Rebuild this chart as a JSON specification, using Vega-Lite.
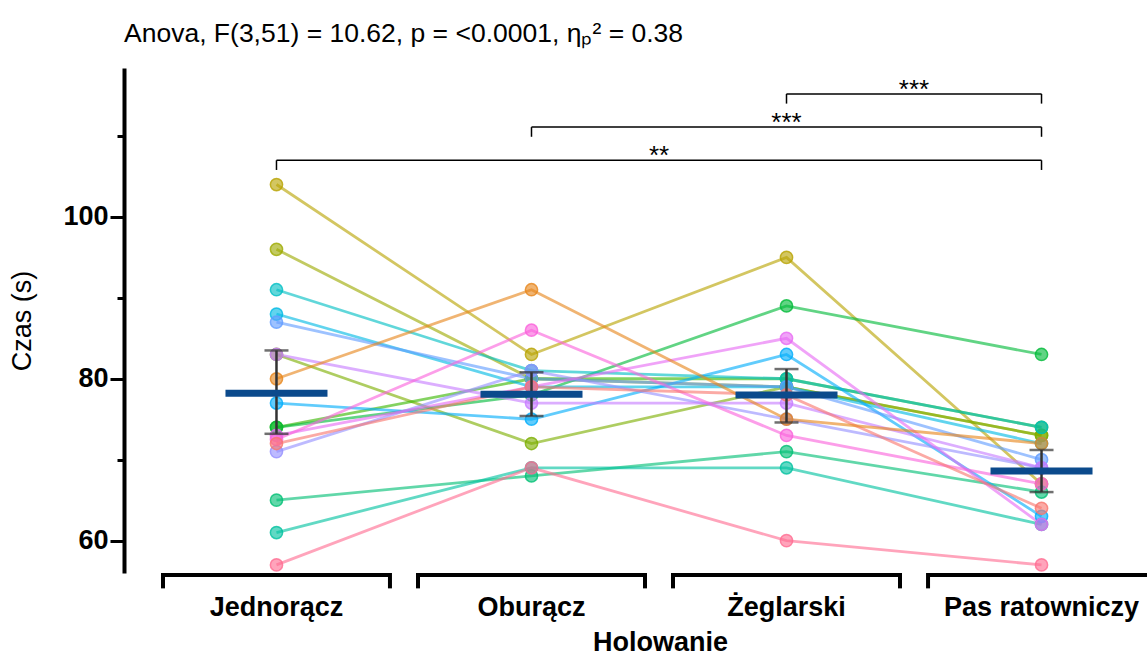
{
  "$schema": "https://vega.github.io/schema/vega-lite/v6.json",
  "autosize": {"type": "none"},
  "padding": {"left": 124, "right": 0, "top": 68, "bottom": 84},
  "width": 1023,
  "height": 505,
  "background": "white",
  "config": {"view": {"stroke": null}, "font": "Liberation Sans"},
  "title": {
    "text": "Anova, F(3,51) = 10.62, p = <0.0001, ηₚ² = 0.38",
    "anchor": "start",
    "frame": "group",
    "font": "Liberation Sans",
    "fontSize": 26.5,
    "fontWeight": "normal",
    "color": "black",
    "baseline": "alphabetic",
    "offset": 0
  },
  "datasets": {
    "obs": [
      {"subject": "S01", "group": "Jednorącz", "czas": 104}, {"subject": "S01", "group": "Oburącz", "czas": 83}, {"subject": "S01", "group": "Żeglarski", "czas": 95}, {"subject": "S01", "group": "Pas ratowniczy", "czas": 67},
      {"subject": "S02", "group": "Jednorącz", "czas": 96}, {"subject": "S02", "group": "Oburącz", "czas": 80}, {"subject": "S02", "group": "Żeglarski", "czas": 79}, {"subject": "S02", "group": "Pas ratowniczy", "czas": 73},
      {"subject": "S03", "group": "Jednorącz", "czas": 83}, {"subject": "S03", "group": "Oburącz", "czas": 72}, {"subject": "S03", "group": "Żeglarski", "czas": 79}, {"subject": "S03", "group": "Pas ratowniczy", "czas": 73},
      {"subject": "S04", "group": "Jednorącz", "czas": 74}, {"subject": "S04", "group": "Oburącz", "czas": 80}, {"subject": "S04", "group": "Żeglarski", "czas": 80}, {"subject": "S04", "group": "Pas ratowniczy", "czas": 74},
      {"subject": "S05", "group": "Jednorącz", "czas": 74}, {"subject": "S05", "group": "Oburącz", "czas": 78}, {"subject": "S05", "group": "Żeglarski", "czas": 89}, {"subject": "S05", "group": "Pas ratowniczy", "czas": 83},
      {"subject": "S06", "group": "Jednorącz", "czas": 65}, {"subject": "S06", "group": "Oburącz", "czas": 68}, {"subject": "S06", "group": "Żeglarski", "czas": 71}, {"subject": "S06", "group": "Pas ratowniczy", "czas": 66},
      {"subject": "S07", "group": "Jednorącz", "czas": 61}, {"subject": "S07", "group": "Oburącz", "czas": 69}, {"subject": "S07", "group": "Żeglarski", "czas": 69}, {"subject": "S07", "group": "Pas ratowniczy", "czas": 62},
      {"subject": "S08", "group": "Jednorącz", "czas": 91}, {"subject": "S08", "group": "Oburącz", "czas": 81}, {"subject": "S08", "group": "Żeglarski", "czas": 80}, {"subject": "S08", "group": "Pas ratowniczy", "czas": 74},
      {"subject": "S09", "group": "Jednorącz", "czas": 88}, {"subject": "S09", "group": "Oburącz", "czas": 79}, {"subject": "S09", "group": "Żeglarski", "czas": 79}, {"subject": "S09", "group": "Pas ratowniczy", "czas": 72},
      {"subject": "S10", "group": "Jednorącz", "czas": 77}, {"subject": "S10", "group": "Oburącz", "czas": 75}, {"subject": "S10", "group": "Żeglarski", "czas": 83}, {"subject": "S10", "group": "Pas ratowniczy", "czas": 63},
      {"subject": "S11", "group": "Jednorącz", "czas": 87}, {"subject": "S11", "group": "Oburącz", "czas": 80}, {"subject": "S11", "group": "Żeglarski", "czas": 79}, {"subject": "S11", "group": "Pas ratowniczy", "czas": 70},
      {"subject": "S12", "group": "Jednorącz", "czas": 71}, {"subject": "S12", "group": "Oburącz", "czas": 81}, {"subject": "S12", "group": "Żeglarski", "czas": 75}, {"subject": "S12", "group": "Pas ratowniczy", "czas": 69},
      {"subject": "S13", "group": "Jednorącz", "czas": 83}, {"subject": "S13", "group": "Oburącz", "czas": 77}, {"subject": "S13", "group": "Żeglarski", "czas": 77}, {"subject": "S13", "group": "Pas ratowniczy", "czas": 69},
      {"subject": "S14", "group": "Jednorącz", "czas": 73}, {"subject": "S14", "group": "Oburącz", "czas": 79}, {"subject": "S14", "group": "Żeglarski", "czas": 85}, {"subject": "S14", "group": "Pas ratowniczy", "czas": 62},
      {"subject": "S15", "group": "Jednorącz", "czas": 72.5}, {"subject": "S15", "group": "Oburącz", "czas": 86}, {"subject": "S15", "group": "Żeglarski", "czas": 73}, {"subject": "S15", "group": "Pas ratowniczy", "czas": 67},
      {"subject": "S16", "group": "Jednorącz", "czas": 57}, {"subject": "S16", "group": "Oburącz", "czas": 69}, {"subject": "S16", "group": "Żeglarski", "czas": 60}, {"subject": "S16", "group": "Pas ratowniczy", "czas": 57},
      {"subject": "S17", "group": "Jednorącz", "czas": 72}, {"subject": "S17", "group": "Oburącz", "czas": 79}, {"subject": "S17", "group": "Żeglarski", "czas": 78}, {"subject": "S17", "group": "Pas ratowniczy", "czas": 64},
      {"subject": "S18", "group": "Jednorącz", "czas": 80}, {"subject": "S18", "group": "Oburącz", "czas": 91}, {"subject": "S18", "group": "Żeglarski", "czas": 75}, {"subject": "S18", "group": "Pas ratowniczy", "czas": 72}
    ],
    "summary": [
      {"group": "Jednorącz", "mean": 78.2, "lo": 73.2, "hi": 83.5},
      {"group": "Oburącz", "mean": 78.1, "lo": 75.4, "hi": 80.8},
      {"group": "Żeglarski", "mean": 78.0, "lo": 74.6, "hi": 81.2},
      {"group": "Pas ratowniczy", "mean": 68.6, "lo": 66.0, "hi": 71.2}
    ],
    "sig": [
      {"from": "Żeglarski", "to": "Pas ratowniczy", "yLine": 115.2, "yEnd": 114.0, "label": "***"},
      {"from": "Oburącz", "to": "Pas ratowniczy", "yLine": 111.1, "yEnd": 109.9, "label": "***"},
      {"from": "Jednorącz", "to": "Pas ratowniczy", "yLine": 107.0, "yEnd": 105.8, "label": "**"}
    ]
  },
  "layer": [
    {
      "data": {"name": "obs"},
      "mark": {"type": "line", "strokeWidth": 2.8, "opacity": 0.62},
      "encoding": {
        "x": {
          "field": "group",
          "type": "nominal",
          "title": "Holowanie",
          "scale": {
            "type": "band",
            "domain": ["Jednorącz", "Oburącz", "Żeglarski", "Pas ratowniczy"],
            "range": [39, 1031],
            "paddingInner": 0.11,
            "paddingOuter": 0
          },
          "axis": {
            "domain": false,
            "ticks": false,
            "labelAngle": 0,
            "labelLimit": 0,
            "labelFont": "Liberation Sans",
            "labelFontSize": 27,
            "labelFontWeight": "bold",
            "labelColor": "black",
            "labelPadding": 21,
            "titleFont": "Liberation Sans",
            "titleFontSize": 27,
            "titleFontWeight": "bold",
            "titleColor": "black",
            "titlePadding": 9,
            "titleX": 536,
            "titleAlign": "center"
          }
        },
        "y": {
          "field": "czas",
          "type": "quantitative",
          "title": "Czas (s)",
          "scale": {"domain": [56, 118.4], "nice": false, "zero": false},
          "axis": {
            "values": [60, 70, 80, 90, 100, 110],
            "labelExpr": "datum.value % 20 === 0 ? datum.label : ''",
            "tickSize": {"condition": {"test": "datum.value % 20 === 0", "value": 14}, "value": 7},
            "tickWidth": 3,
            "tickColor": "black",
            "domainWidth": 4,
            "domainColor": "black",
            "grid": false,
            "labelFont": "Liberation Sans",
            "labelFontSize": 27,
            "labelFontWeight": "bold",
            "labelColor": "black",
            "labelPadding": 2,
            "titleFont": "Liberation Sans",
            "titleFontSize": 27,
            "titleFontWeight": "normal",
            "titleColor": "black",
            "titlePadding": 26
          }
        },
        "color": {
          "field": "subject",
          "type": "nominal",
          "legend": null,
          "scale": {
            "domain": ["S01","S02","S03","S04","S05","S06","S07","S08","S09","S10","S11","S12","S13","S14","S15","S16","S17","S18"],
            "range": ["#B8A300","#9DAA00","#7CAE00","#39B600","#00BA38","#00BF74","#00C19F","#00BFC4","#00B9E3","#00ADFA","#619CFF","#9590FF","#C77CFF","#E76BF3","#FA62DB","#FF6C91","#F8766D","#E7861B"]
          }
        },
        "detail": {"field": "subject"}
      }
    },
    {
      "data": {"name": "obs"},
      "mark": {"type": "point", "shape": "circle", "filled": true, "size": 150, "fillOpacity": 0.62, "strokeOpacity": 0.8, "strokeWidth": 1.5},
      "encoding": {
        "x": {"field": "group", "type": "nominal"},
        "y": {"field": "czas", "type": "quantitative"},
        "color": {"field": "subject", "type": "nominal", "legend": null},
        "stroke": {
          "field": "subject",
          "type": "nominal",
          "legend": null,
          "scale": {
            "domain": ["S01","S02","S03","S04","S05","S06","S07","S08","S09","S10","S11","S12","S13","S14","S15","S16","S17","S18"],
            "range": ["#B8A300","#9DAA00","#7CAE00","#39B600","#00BA38","#00BF74","#00C19F","#00BFC4","#00B9E3","#00ADFA","#619CFF","#9590FF","#C77CFF","#E76BF3","#FA62DB","#FF6C91","#F8766D","#E7861B"]
          }
        }
      }
    },
    {
      "data": {"name": "summary"},
      "mark": {"type": "rule", "color": "#333333", "strokeWidth": 2.5},
      "encoding": {
        "x": {"field": "group", "type": "nominal"},
        "y": {"field": "lo", "type": "quantitative"},
        "y2": {"field": "hi"}
      }
    },
    {
      "data": {"name": "summary"},
      "mark": {"type": "tick", "color": "#333333", "thickness": 2.5, "size": 24},
      "encoding": {
        "x": {"field": "group", "type": "nominal"},
        "y": {"field": "lo", "type": "quantitative"}
      }
    },
    {
      "data": {"name": "summary"},
      "mark": {"type": "tick", "color": "#333333", "thickness": 2.5, "size": 24},
      "encoding": {
        "x": {"field": "group", "type": "nominal"},
        "y": {"field": "hi", "type": "quantitative"}
      }
    },
    {
      "data": {"name": "summary"},
      "mark": {"type": "tick", "color": "#0B4A8C", "thickness": 7, "size": 102, "opacity": 1},
      "encoding": {
        "x": {"field": "group", "type": "nominal"},
        "y": {"field": "mean", "type": "quantitative"}
      }
    },
    {
      "data": {"name": "summary"},
      "mark": {"type": "bar", "color": "black"},
      "encoding": {
        "x": {"field": "group", "type": "nominal"},
        "y": {"datum": 56},
        "y2": {"datum": 55.5}
      }
    },
    {
      "data": {"name": "summary"},
      "mark": {"type": "rule", "color": "black", "strokeWidth": 4},
      "encoding": {
        "x": {"field": "group", "type": "nominal", "bandPosition": 0},
        "y": {"datum": 56},
        "y2": {"datum": 54.1}
      }
    },
    {
      "data": {"name": "summary"},
      "mark": {"type": "rule", "color": "black", "strokeWidth": 4},
      "encoding": {
        "x": {"field": "group", "type": "nominal", "bandPosition": 1},
        "y": {"datum": 56},
        "y2": {"datum": 54.1}
      }
    },
    {
      "data": {"name": "sig"},
      "mark": {"type": "rule", "color": "black", "strokeWidth": 1.5},
      "encoding": {
        "x": {"field": "from", "type": "nominal"},
        "x2": {"field": "to"},
        "y": {"field": "yLine", "type": "quantitative"}
      }
    },
    {
      "data": {"name": "sig"},
      "mark": {"type": "rule", "color": "black", "strokeWidth": 1.5},
      "encoding": {
        "x": {"field": "from", "type": "nominal"},
        "y": {"field": "yLine", "type": "quantitative"},
        "y2": {"field": "yEnd"}
      }
    },
    {
      "data": {"name": "sig"},
      "mark": {"type": "rule", "color": "black", "strokeWidth": 1.5},
      "encoding": {
        "x": {"field": "to", "type": "nominal"},
        "y": {"field": "yLine", "type": "quantitative"},
        "y2": {"field": "yEnd"}
      }
    },
    {
      "data": {"name": "sig"},
      "mark": {
        "type": "text",
        "font": "Liberation Sans",
        "fontSize": 26,
        "color": "black",
        "baseline": "alphabetic",
        "align": "center",
        "dy": 4
      },
      "encoding": {
        "x": {"value": {"expr": "(scale('x', datum.from) + scale('x', datum.to) + bandwidth('x')) / 2"}},
        "y": {"field": "yLine", "type": "quantitative"},
        "text": {"field": "label"}
      }
    }
  ]
}
